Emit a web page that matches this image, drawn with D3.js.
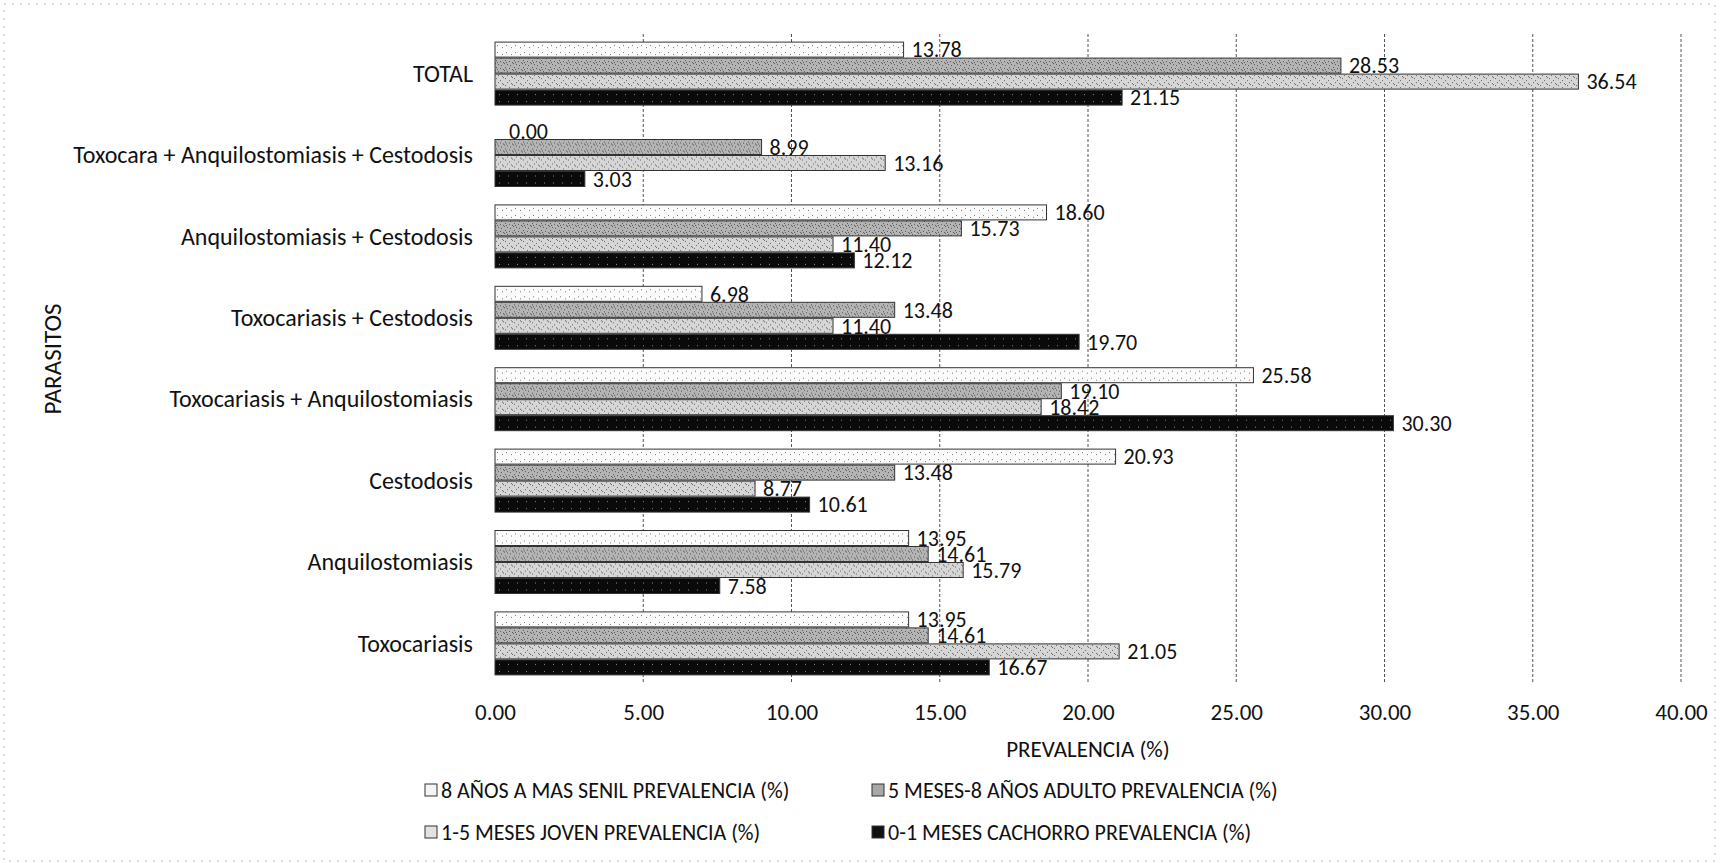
<!DOCTYPE html>
<html>
<head>
<meta charset="utf-8">
<script src="https://cdn.jsdelivr.net/npm/d3@7"></script>
<style>
  body { margin: 0; background: #fff; }
  text { font-family: Carlito, Lato, "Open Sans", sans-serif; fill: #111; }
</style>
</head>
<body>
<svg id="chart" width="1731" height="863"></svg>
<script>
// categorías (de arriba hacia abajo)
const categorias = [
  "TOTAL",
  "Toxocara + Anquilostomiasis + Cestodosis",
  "Anquilostomiasis + Cestodosis",
  "Toxocariasis + Cestodosis",
  "Toxocariasis + Anquilostomiasis",
  "Cestodosis",
  "Anquilostomiasis",
  "Toxocariasis"
];

const series = [
  "8 AÑOS A MAS SENIL PREVALENCIA (%)",
  "5 MESES-8 AÑOS ADULTO PREVALENCIA (%)",
  "1-5 MESES JOVEN PREVALENCIA (%)",
  "0-1 MESES CACHORRO PREVALENCIA (%)"
];

const senil    = [13.78, 0.00, 18.60, 6.98, 25.58, 20.93, 13.95, 13.95];
const adulto   = [28.53, 8.99, 15.73, 13.48, 19.10, 13.48, 14.61, 14.61];
const joven    = [36.54, 13.16, 11.40, 11.40, 18.42, 8.77, 15.79, 21.05];
const cachorro = [21.15, 3.03, 12.12, 19.70, 30.30, 10.61, 7.58, 16.67];

const xTicks = [0, 5, 10, 15, 20, 25, 30, 35, 40];

const valores = [senil, adulto, joven, cachorro];

const datos = categorias.map((c, i) => ({
  cat: c,
  vals: series.map((s, j) => ({ serie: s, idx: j, v: valores[j][i] }))
}));

const svg = d3.select("#chart"),
      margin = {top: 36, right: 50, bottom: 181, left: 495},
      width = 1186,
      height = 646;

// texturas tipo escaneo
const defs = svg.append("defs");
function textura(id, base, dots, dotColor) {
  const p = defs.append("pattern")
    .attr("id", id)
    .attr("patternUnits", "userSpaceOnUse")
    .attr("width", 9).attr("height", 7);
  p.append("rect").attr("width", 9).attr("height", 7).attr("fill", base);
  dots.forEach(d => p.append("rect")
    .attr("x", d[0]).attr("y", d[1]).attr("width", 1).attr("height", 1)
    .attr("fill", dotColor));
}
textura("pSenil", "#fbfbfb", [[2, 3], [7, 5]], "#777");
textura("pAdulto", "#b4b4b4", [[0, 0], [3, 1], [6, 2], [1, 4], [5, 5], [8, 6], [2, 6]], "#555");
textura("pJoven", "#d6d6d6", [[1, 1], [5, 3], [8, 0], [3, 5], [7, 6]], "#666");
textura("pCachorro", "#0a0a0a", [[4, 3]], "#888");

const fills = ["url(#pSenil)", "url(#pAdulto)", "url(#pJoven)", "url(#pCachorro)"];
const legendFills = ["#f4f4f4", "#a8a8a8", "#e2e2e2", "#111"];

// borde del gráfico (punteado, como el escaneo)
svg.append("rect")
  .attr("x", 4).attr("y", 4)
  .attr("width", 1711).attr("height", 857)
  .attr("fill", "none")
  .attr("stroke", "#bbb")
  .attr("stroke-width", 1)
  .attr("stroke-dasharray", "2,6");

const g = svg.append("g").attr("transform", `translate(${margin.left},${margin.top})`);

// escalas
const x = d3.scaleLinear().domain([0, 40]).range([0, width]);

const y0 = d3.scaleBand()
  .domain(categorias)
  .range([0, height])
  .paddingInner(0.214)
  .paddingOuter(0.075);

const y1 = d3.scaleBand()
  .domain(series)
  .range([0, y0.bandwidth()])
  .padding(0);

// rejilla vertical
g.selectAll("line.grid")
  .data(xTicks.filter(d => d > 0))
  .enter().append("line")
    .attr("class", "grid")
    .attr("x1", d => x(d)).attr("x2", d => x(d))
    .attr("y1", -2).attr("y2", height + 2)
    .attr("stroke", "#555")
    .attr("stroke-width", 1)
    .attr("stroke-dasharray", "3,2");

// eje X
const ax = g.append("g")
  .attr("transform", `translate(0,${height})`)
  .call(d3.axisBottom(x).tickValues(xTicks).tickFormat(d3.format(".2f")).tickSize(0).tickPadding(22));
ax.select(".domain").remove();
ax.selectAll("text").style("font-size", "23px");

// eje Y
const ay = g.append("g")
  .call(d3.axisLeft(y0).tickSize(0).tickPadding(22));
ay.select(".domain").remove();
ay.selectAll("text").style("font-size", "24px");

// barras
const grupos = g.selectAll("g.grupo")
  .data(datos)
  .enter().append("g")
    .attr("class", "grupo")
    .attr("transform", d => `translate(0,${y0(d.cat)})`);

grupos.selectAll("rect")
  .data(d => d.vals)
  .enter().append("rect")
    .attr("x", 0)
    .attr("y", d => y1(d.serie))
    .attr("width", d => x(d.v))
    .attr("height", y1.bandwidth() - 1)
    .attr("fill", d => fills[d.idx])
    .attr("stroke", d => d.v > 0 ? "#333" : "none")
    .attr("stroke-width", 1);

// etiquetas de valor
grupos.selectAll("text.value")
  .data(d => d.vals)
  .enter().append("text")
    .attr("class", "value")
    .attr("x", d => x(d.v) + (d.v > 0 ? 8 : 14))
    .attr("y", d => y1(d.serie) + y1.bandwidth() / 2)
    .attr("dy", "0.33em")
    .style("font-size", "22px")
    .text(d => d.v.toFixed(2));

// títulos de ejes
svg.append("text")
  .attr("x", margin.left + width / 2)
  .attr("y", 757)
  .attr("text-anchor", "middle")
  .style("font-size", "23px")
  .text("PREVALENCIA (%)");

svg.append("text")
  .attr("transform", `translate(61,${margin.top + height / 2}) rotate(-90)`)
  .attr("text-anchor", "middle")
  .style("font-size", "25px")
  .text("PARASITOS");

// leyenda
const legPos = [[425, 790], [872, 790], [425, 832], [872, 832]];
const leg = svg.selectAll("g.leg")
  .data(series)
  .enter().append("g")
    .attr("class", "leg")
    .attr("transform", (d, i) => `translate(${legPos[i][0]},${legPos[i][1]})`);

leg.append("rect")
  .attr("x", 0).attr("y", -6)
  .attr("width", 12).attr("height", 12)
  .attr("fill", (d, i) => legendFills[i])
  .attr("stroke", "#333");

leg.append("text")
  .attr("x", 16)
  .attr("dy", "0.35em")
  .style("font-size", "22px")
  .text(d => d);
</script>
</body>
</html>
